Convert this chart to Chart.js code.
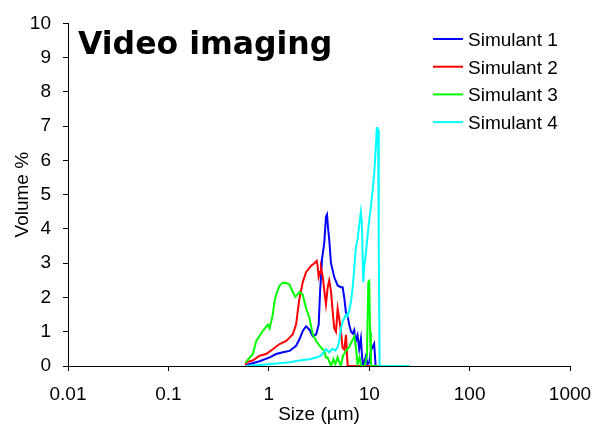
<!DOCTYPE html>
<html>
<head>
<meta charset="utf-8">
<script src="https://cdn.jsdelivr.net/npm/chart.js@4.4.0/dist/chart.umd.min.js"></script>
<style>
    html, body { margin: 0; padding: 0; background: #fff; }
</style>
</head>
<body>
<canvas id="myChart" width="600" height="429"></canvas>
<script>

// values (size in um, volume in %)
const sim1_size = [0.586, 0.81, 1.02, 1.18, 1.38, 1.61, 1.87, 2.02, 2.18, 2.35, 2.54, 2.74, 2.96, 3.14, 3.24, 3.39, 3.57, 3.71, 3.8, 3.9, 4.0, 4.16, 4.49, 4.85, 5.2, 5.44, 5.64, 5.87, 6.1, 6.33, 6.6, 6.85, 7.1, 7.3, 7.65, 7.95, 8.26, 8.5, 8.7, 9.3, 9.6, 10.0, 10.4, 11.2, 11.6, 25];
const sim1_vol = [0.02, 0.14, 0.25, 0.35, 0.40, 0.44, 0.59, 0.78, 1.02, 1.16, 1.06, 0.87, 0.92, 1.21, 2.16, 3.12, 3.6, 4.35, 4.42, 4.0, 3.69, 3.0, 2.59, 2.35, 2.3, 2.3, 2.0, 1.55, 1.45, 1.2, 1.0, 0.95, 1.05, 0.7, 0.9, 0.5, 0.8, 0.25, 0, 0.3, 0.05, 0.1, 0.45, 0.65, 0, 0];

const sim2_size = [0.586, 0.6, 0.69, 0.81, 0.94, 1.095, 1.28, 1.49, 1.73, 1.87, 1.94, 2.02, 2.18, 2.35, 2.64, 2.85, 3.0, 3.07, 3.14, 3.24, 3.31, 3.45, 3.57, 3.71, 3.86, 4.0, 4.16, 4.32, 4.49, 4.67, 4.85, 5.03, 5.23, 5.43, 5.65, 5.87, 6.1, 25];
const sim2_vol = [0.02, 0.11, 0.16, 0.30, 0.35, 0.49, 0.64, 0.73, 0.92, 1.21, 1.59, 1.97, 2.45, 2.74, 2.93, 3.0, 3.07, 2.9, 2.6, 2.75, 2.85, 2.6, 2.2, 1.8, 2.3, 2.5, 2.2, 1.6, 1.1, 1.0, 1.67, 1.38, 1.0, 0.53, 0.48, 0.91, 0, 0];

const sim3_size = [0.586, 0.643, 0.694, 0.75, 0.87, 0.98, 1.02, 1.095, 1.14, 1.18, 1.28, 1.38, 1.5, 1.61, 1.73, 1.84, 2.02, 2.18, 2.35, 2.54, 2.74, 2.96, 3.31, 3.57, 3.71, 3.85, 4.17, 4.4, 4.6, 4.85, 5.2, 5.5, 5.9, 6.3, 6.8, 7.1, 7.37, 7.65, 8.0, 8.3, 9.0, 9.5, 9.8, 10.0, 10.2, 10.4, 25];
const sim3_vol = [0.10, 0.24, 0.35, 0.73, 1.02, 1.21, 1.1, 1.50, 1.88, 2.07, 2.35, 2.43, 2.42, 2.37, 2.16, 2.02, 2.16, 2.07, 1.69, 1.40, 0.92, 0.73, 0.54, 0.44, 0.25, 0.25, 0, 0.2, 0.05, 0.25, 0, 0.3, 0.45, 0.55, 0.75, 0.87, 0.55, 0.05, 0.25, 0, 0, 0.3, 2.45, 2.48, 1.0, 0, 0];

const sim4_size = [0.586, 1.0, 1.61, 2.02, 2.54, 2.96, 3.31, 3.71, 4.0, 4.3, 4.6, 4.85, 5.04, 5.24, 5.45, 5.65, 5.9, 6.1, 6.35, 6.6, 6.85, 7.1, 7.37, 7.65, 7.95, 8.26, 8.45, 8.72, 8.92, 9.27, 9.63, 10.0, 10.4, 10.8, 11.2, 11.65, 11.9, 12.1, 12.25, 12.45, 12.7, 25];
const sim4_vol = [0, 0.05, 0.11, 0.16, 0.2, 0.25, 0.3, 0.49, 0.4, 0.5, 0.45, 0.55, 0.75, 1.1, 1.3, 1.4, 1.5, 1.45, 1.65, 1.9, 2.3, 2.85, 3.45, 3.7, 4.1, 4.5, 4.2, 2.45, 2.9, 3.3, 3.8, 4.25, 4.65, 5.1, 5.6, 6.4, 6.95, 6.95, 6.9, 3.5, 0, 0];

const series_names = ['Simulant 1', 'Simulant 2', 'Simulant 3', 'Simulant 4'];
const series_colors = ['#0000ff', '#ff0000', '#00ff00', '#00ffff'];
const x_ticks = [0.01, 0.1, 1, 10, 100, 1000];
const chart_title = 'Video imaging';

function toPoints(sizes, vols) {
    let pts = [];
    for (let i = 0; i < sizes.length; i = i + 1) {
        pts.push({ x: sizes[i], y: vols[i] });
    }
    return pts
}

const all_series = [
    toPoints(sim1_size, sim1_vol),
    toPoints(sim2_size, sim2_vol),
    toPoints(sim3_size, sim3_vol),
    toPoints(sim4_size, sim4_vol)
];

const FONT = 'Liberation Sans, Arial, sans-serif';

// title + legend sit inside the plot area
const overlay = {
    id: 'overlay',
    afterDraw(chart) {
        const c = chart.ctx;
        c.save();
        c.fillStyle = '#000';
        c.font = 'bold 31.5px "DejaVu Sans"';
        c.textBaseline = 'alphabetic';
        c.textAlign = 'left';
        c.fillText(chart_title, 78, 54);

        c.font = '19px ' + FONT;
        for (let i = 0; i < series_names.length; i++) {
            const y = 39 + i * 27.7;
            c.strokeStyle = series_colors[i];
            c.lineWidth = 2;
            c.beginPath();
            c.moveTo(433, y);
            c.lineTo(463, y);
            c.stroke();
            c.fillStyle = '#000';
            c.fillText(series_names[i], 468, y + 7);
        }
        c.restore();
    }
};

const ctx = document.getElementById('myChart').getContext('2d');
const myChart = new Chart(ctx, {
    type: 'line',
    data: {
        datasets: all_series.map((pts, i) => ({
            label: series_names[i],
            data: pts,
            borderColor: series_colors[i],
            backgroundColor: series_colors[i],
            borderWidth: 2,
            pointRadius: 0,
            tension: 0,
            fill: false,
            order: 4 - i
        }))
    },
    options: {
        responsive: false,
        animation: false,
        layout: { padding: { top: 17, right: 30, left: 0, bottom: 0 } },
        plugins: {
            legend: { display: false },
            tooltip: { enabled: false }
        },
        scales: {
            x: {
                type: 'logarithmic',
                min: 0.01,
                max: 1000,
                afterBuildTicks: axis => { axis.ticks = x_ticks.map(v => ({ value: v })); },
                afterFit: axis => {
                    axis.height = 63;
                    axis.paddingLeft = 0;
                    axis.paddingRight = 0;
                },
                ticks: {
                    color: '#000',
                    font: { family: FONT, size: 19 },
                    padding: 12,
                    maxRotation: 0,
                    autoSkip: false,
                    callback: v => String(v)
                },
                grid: { drawOnChartArea: false, tickLength: 5, color: '#000' },
                border: { color: '#000', width: 1 },
                title: {
                    display: true,
                    text: 'Size (µm)',
                    color: '#000',
                    font: { family: FONT, size: 19 },
                    padding: { top: 0, bottom: 3 }
                }
            },
            y: {
                min: 0,
                max: 10,
                afterFit: axis => { axis.width = 68; },
                ticks: {
                    stepSize: 1,
                    color: '#000',
                    font: { family: FONT, size: 19 },
                    padding: 12
                },
                grid: { drawOnChartArea: false, tickLength: 5, color: '#000' },
                border: { color: '#000', width: 1 },
                title: {
                    display: true,
                    text: 'Volume %',
                    color: '#000',
                    font: { family: FONT, size: 19 },
                    padding: { top: 11, bottom: 0 }
                }
            }
        }
    },
    plugins: [overlay]
});
</script>
</body>
</html>
